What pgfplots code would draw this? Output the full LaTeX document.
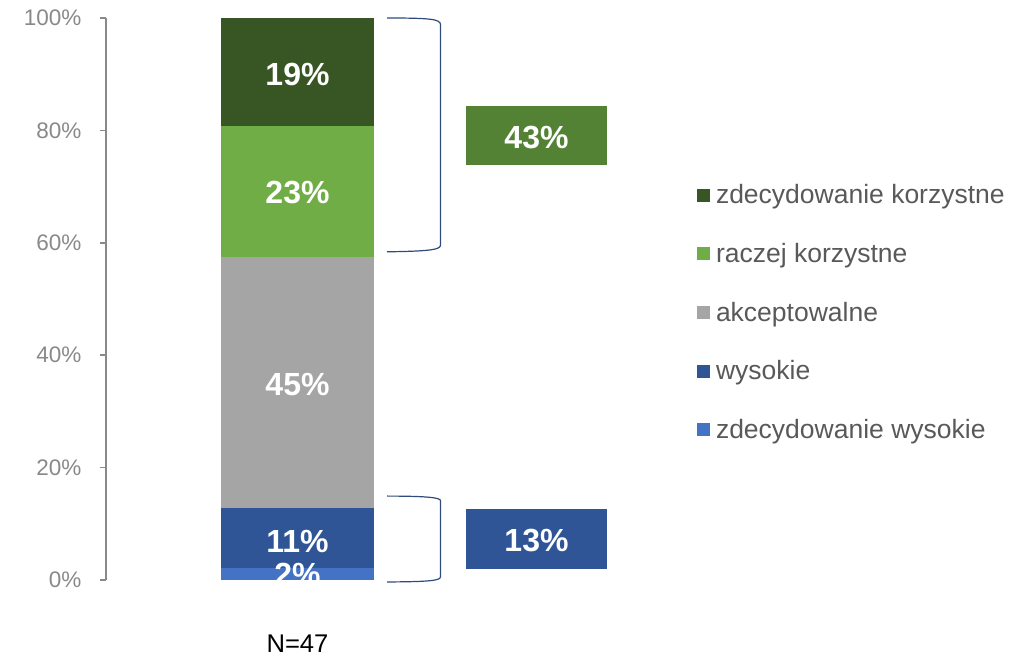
\documentclass[border=0pt]{standalone}
\usepackage{pgfplots}
\pgfplotsset{compat=1.18}
\usepackage{fontspec}
\setmainfont{Liberation Sans}
\definecolor{c1}{HTML}{4472C4}
\definecolor{c2}{HTML}{2F5597}
\definecolor{c3}{HTML}{A5A5A5}
\definecolor{c4}{HTML}{70AD47}
\definecolor{c5}{HTML}{375623}
\definecolor{box43}{HTML}{548235}
\definecolor{brk}{HTML}{2F4B7C}
\definecolor{tickgray}{HTML}{898989}
\definecolor{legtext}{HTML}{595959}
\begin{document}
\begin{tikzpicture}[x=1pt,y=1pt]
\useasboundingbox (-106,-77) rectangle (927,580);
\pgfplotsset{base/.style={scale only axis, width=927pt, height=562pt,
  xmin=0, xmax=927, ymin=0, ymax=100, at={(0,0)}, anchor=south west},
  sq/.style={legend image code/.code={\fill[##1] (0pt,-6.5pt) rectangle (13pt,6.5pt);}}}
\begin{axis}[base,
  ybar stacked, bar width=153pt,
  axis y line*=left, axis x line*=bottom,
  x axis line style={draw=none},
  ytick={0,20,40,60,80,100},
  /pgf/number format/assume math mode=true,
  yticklabel={\pgfmathprintnumber{\tick}\%},
  yticklabel style={font=\fontsize{22.5}{26}\selectfont, text=tickgray, xshift=-15pt},
  y axis line style={draw=tickgray, line width=1.5pt},
  ytick style={draw=tickgray, line width=1.5pt},
  tick align=outside, major tick length=6pt,
  xtick={191.5}, xticklabels={N=47}, xtick style={draw=none},
  xticklabel style={font=\fontsize{25.6}{30}\selectfont, text=black, anchor=base, yshift=-66pt, inner sep=0pt},
  clip=false,
  reverse legend,
  legend cell align=left,
  legend style={at={(axis cs:591,70.7)}, anchor=north west, draw=none, fill=none,
    inner sep=0pt, outer sep=0pt, font=\fontsize{26.5}{30}\selectfont, text=legtext,
    row sep=34pt, nodes={inner sep=2pt},
    /tikz/every odd column/.append style={column sep=4pt}},
]
\addplot[fill=c1, draw=none, sq] coordinates {(191.5,2.13)};
\addplot[fill=c2, draw=none, sq] coordinates {(191.5,10.64)};
\addplot[fill=c3, draw=none, sq] coordinates {(191.5,44.68)};
\addplot[fill=c4, draw=none, sq] coordinates {(191.5,23.40)};
\addplot[fill=c5, draw=none, sq] coordinates {(191.5,19.15)};
\legend{zdecydowanie wysokie, wysokie, akceptowalne, raczej korzystne, zdecydowanie korzystne}
% brackets
\draw[brk, line width=1.2pt] (281,100) .. controls (325,100) and (334.5,99.8) .. (334.5,98.8)
  -- (334.5,59.6) .. controls (334.5,58.8) and (325,58.5) .. (281,58.4);
\draw[brk, line width=1.2pt] (281,14.93) .. controls (325,14.93) and (334.5,14.6) .. (334.5,14.1)
  -- (334.5,0.6) .. controls (334.5,-0.1) and (325,-0.3) .. (281,-0.35);
\end{axis}
\begin{scope}
\clip (-106,0) rectangle (927,600);
\begin{axis}[base, hide axis, clip=false]
% summary boxes
\fill[box43] (axis cs:360,73.84) rectangle (axis cs:501,84.34);
\fill[c2] (axis cs:360,1.96) rectangle (axis cs:501,12.63);
\addplot[draw=none, nodes near coords, point meta=explicit symbolic,
  every node near coord/.style={anchor=center, text=white, font=\fontsize{32}{36}\selectfont\bfseries}]
  coordinates {(191.5,90.0)[19\%] (191.5,68.9)[23\%] (191.5,34.7)[45\%] (191.5,6.94)[11\%] (191.5,1.07)[2\%]
  (430.5,78.8)[43\%] (430.5,6.94)[13\%]};
\end{axis}
\end{scope}
\end{tikzpicture}
\end{document}
